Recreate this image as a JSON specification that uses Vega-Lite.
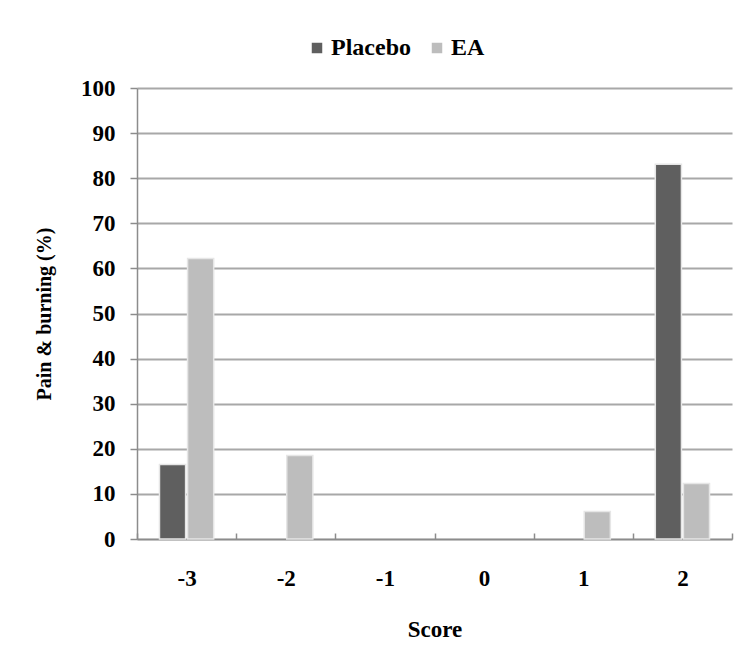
{
  "$schema": "https://vega.github.io/schema/vega-lite/v6.json",
  "autosize": {"type": "none"},
  "width": 595,
  "height": 451,
  "padding": {"left": 137, "top": 88, "right": 12, "bottom": 111},
  "background": "white",
  "data": {
    "values": [
      {"Score": "-3", "Group": "Placebo", "Value": 16.5},
      {"Score": "-3", "Group": "EA", "Value": 62.2},
      {"Score": "-2", "Group": "EA", "Value": 18.5},
      {"Score": "1", "Group": "EA", "Value": 6.1},
      {"Score": "2", "Group": "Placebo", "Value": 83.1},
      {"Score": "2", "Group": "EA", "Value": 12.3}
    ]
  },
  "mark": {"type": "bar", "stroke": "#e6e6e6", "strokeWidth": 1.5},
  "encoding": {
    "x": {
      "field": "Score",
      "type": "nominal",
      "sort": ["-3", "-2", "-1", "0", "1", "2"],
      "scale": {"domain": ["-3", "-2", "-1", "0", "1", "2"], "paddingInner": 0, "paddingOuter": 0},
      "axis": {
        "title": "Score",
        "labelAngle": 0,
        "tickBand": "extent",
        "tickSize": -6,
        "tickWidth": 1.5,
        "tickColor": "#8c8c8c",
        "domainColor": "#8c8c8c",
        "domainWidth": 1.5,
        "labelPadding": 34,
        "titlePadding": 28,
        "labelFontSize": 23,
        "titleFontSize": 23
      }
    },
    "xOffset": {
      "field": "Group",
      "type": "nominal",
      "sort": ["Placebo", "EA"],
      "scale": {"domain": ["Placebo", "EA"], "paddingInner": 0.07, "paddingOuter": 0.8}
    },
    "y": {
      "field": "Value",
      "type": "quantitative",
      "scale": {"domain": [0, 100], "nice": false},
      "axis": {
        "title": "Pain & burning (%)",
        "values": [0, 10, 20, 30, 40, 50, 60, 70, 80, 90, 100],
        "tickSize": 7,
        "tickWidth": 1.5,
        "tickColor": "#8c8c8c",
        "domainColor": "#8c8c8c",
        "domainWidth": 1.5,
        "labelPadding": 15,
        "labelFontSize": 23,
        "titleFontSize": 20,
        "titlePadding": 26,
        "grid": true,
        "gridColor": "#a8a8a8",
        "gridWidth": 1.8
      }
    },
    "color": {
      "field": "Group",
      "type": "nominal",
      "sort": ["Placebo", "EA"],
      "scale": {"domain": ["Placebo", "EA"], "range": ["#5f5f5f", "#bdbdbd"]},
      "legend": {
        "title": null,
        "orient": "none",
        "direction": "horizontal",
        "legendX": 168,
        "legendY": -52,
        "symbolType": "square",
        "symbolSize": 110,
        "symbolStrokeWidth": 0,
        "columnPadding": 14,
        "labelFont": "Liberation Serif",
        "labelFontWeight": "bold",
        "labelFontSize": 24,
        "labelColor": "#000000",
        "labelOffset": 2
      }
    }
  },
  "config": {
    "view": {"stroke": null},
    "axis": {
      "labelFont": "Liberation Serif",
      "labelFontWeight": "bold",
      "labelColor": "#000000",
      "titleFont": "Liberation Serif",
      "titleFontWeight": "bold",
      "titleColor": "#000000"
    },
    "axisX": {"grid": false}
  }
}
